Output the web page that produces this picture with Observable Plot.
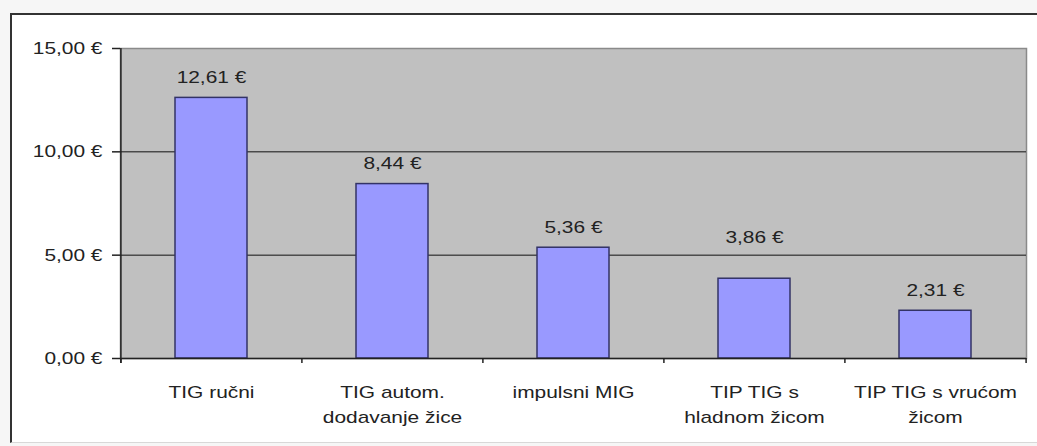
<!DOCTYPE html>
<html>
<head>
<meta charset="utf-8">
<script src="https://cdn.jsdelivr.net/npm/d3@7"></script>
<script src="https://cdn.jsdelivr.net/npm/@observablehq/plot@0.6"></script>
<style>
  html, body { margin: 0; padding: 0; background: #ffffff; }
  #wrap { position: relative; width: 1037px; height: 446px; overflow: hidden; background: #f6f6f6; }
  #inner { position: absolute; left: 10px; top: 13px; width: 1027px; height: 430px; background: #ffffff;
           border-top: 2px solid #333; border-left: 2px solid #333; border-bottom: 1px solid #d8d8d8; box-sizing: border-box; }
  #chart { position: absolute; left: 0; top: 0; }
</style>
</head>
<body>
<div id="wrap"><div id="inner"></div><div id="chart"></div></div>
<script>
const categories = ["TIG ručni", "TIG autom. dodavanje žice", "impulsni MIG", "TIP TIG s hladnom žicom", "TIP TIG s vrućom žicom"];
const categoryLabels = ["TIG ručni", "TIG autom.\ndodavanje žice", "impulsni MIG", "TIP TIG s\nhladnom žicom", "TIP TIG s vrućom\nžicom"];
const costs = [12.61, 8.44, 5.36, 3.86, 2.31];
const yTicks = [0, 5, 10, 15];

const fmt = d => d.toFixed(2).replace(".", ",") + " €";
const data = categories.map((c, i) => ({name: c, label: categoryLabels[i], value: costs[i]}));

const W = 1037, H = 446, ML = 120, MR = 11, MT = 48, MB = 88;
const step = (W - ML - MR) / categories.length;
const TEXT_STRETCH = 1.23;
// the reference lifts this one value label clear of the 5,00 € gridline
const raisedLabel = "TIP TIG s hladnom žicom";

const chart = Plot.plot({
  width: W, height: H,
  marginLeft: ML, marginRight: MR, marginTop: MT, marginBottom: MB,
  style: {fontFamily: "'Liberation Sans', Arial, sans-serif", fontSize: "17px", color: "#222", background: "transparent"},
  x: {domain: categories, paddingInner: 0.6, paddingOuter: 0.3, axis: null},
  y: {domain: [0, 15], axis: null},
  marks: [
    Plot.frame({fill: "#c0c0c0", stroke: "#8a8a8a", strokeWidth: 1.5}),
    Plot.ruleY([5, 10], {stroke: "#111", strokeWidth: 1}),
    Plot.barY(data, {x: "name", y: "value", fill: "#9999ff", stroke: "#333366", strokeWidth: 1.5}),
    Plot.ruleY([0], {stroke: "#222", strokeWidth: 1.5}),
    Plot.ruleX([categories[0]], {x: d => d, y1: -0.24, y2: 15, dx: -step / 2, stroke: "#222", strokeWidth: 1.5}),
    Plot.ruleX(categories, {x: d => d, y1: -0.24, y2: 0, dx: -step / 2, stroke: "#222", strokeWidth: 1.5}),
    Plot.ruleX([categories[categories.length - 1]], {x: d => d, y1: -0.24, y2: 0, dx: step / 2, stroke: "#222", strokeWidth: 1.5}),
    Plot.axisY({ticks: yTicks, tickFormat: fmt, label: null, tickSize: 8, tickPadding: 10, stroke: "#222", fill: "#222", strokeWidth: 1.5}),
    Plot.text(data.filter(d => d.name !== raisedLabel), {x: "name", y: "value", text: d => fmt(d.value), dy: -15, lineAnchor: "bottom", fill: "#222"}),
    Plot.text(data.filter(d => d.name === raisedLabel), {x: "name", y: "value", text: d => fmt(d.value), dy: -36, lineAnchor: "bottom", fill: "#222"}),
    Plot.text(data, {x: "name", y: 0, text: "label", dy: 22, lineAnchor: "top", lineHeight: 1.47, fill: "#222"})
  ]
});

// widen glyphs horizontally around each text's anchor point (reference text is horizontally stretched)
chart.querySelectorAll("text").forEach(t => {
  const x = +(t.getAttribute("x") || 0);
  const tr = t.getAttribute("transform") || "";
  t.setAttribute("transform", `${tr} translate(${x},0) scale(${TEXT_STRETCH},1) translate(${-x},0)`.trim());
});

document.getElementById("chart").appendChild(chart);
</script>
</body>
</html>
